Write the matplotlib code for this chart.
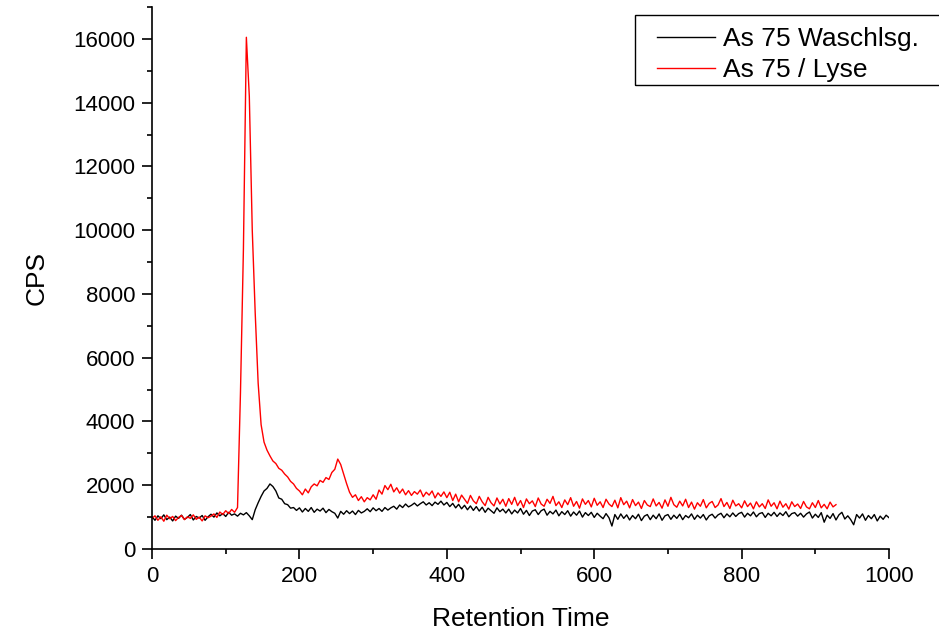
import numpy as np
import matplotlib.pyplot as plt
from matplotlib.ticker import MultipleLocator
from matplotlib.patches import Rectangle

plt.rcParams['font.family'] = ['Liberation Sans', 'DejaVu Sans']

# Retention time grid, one reading every 4 units
time_wasch = np.arange(0, 1001, 4)
time_lyse = np.arange(0, 929, 4)

# As 75 Waschlsg. (black)
cps_wasch = [
    1010, 900, 1040, 950, 1070, 920, 1000, 880, 1030, 960,
    1060, 930, 990, 1080, 910, 1020, 970, 1050, 900, 1010,
    1090, 1000, 1130, 1040, 1110, 1020, 1150, 1060, 1100, 1030,
    1120, 1070, 1140, 1040, 920, 1230, 1450, 1650, 1820, 1900,
    2040, 1960, 1820, 1600, 1560, 1420, 1390, 1280, 1300, 1210,
    1290, 1160, 1270, 1180, 1300, 1150, 1250, 1190, 1280, 1140,
    1240, 1170, 1120, 970, 1180, 1090, 1200, 1110, 1190, 1080,
    1210, 1130, 1180, 1260, 1170, 1290, 1200, 1270, 1180, 1300,
    1220, 1290, 1340, 1250, 1380, 1300, 1410, 1320, 1370, 1440,
    1350, 1420, 1480, 1380, 1450, 1360, 1470, 1400, 1500, 1380,
    1460, 1330, 1430, 1290, 1400, 1260, 1370, 1230, 1350, 1210,
    1330, 1190, 1310, 1150, 1280, 1200, 1120, 1290, 1170, 1250,
    1130, 1250, 1100, 1220, 1130, 1270, 1090, 1210, 1050, 1190,
    1230, 1080, 1200, 1250, 1060, 1180, 1100, 1220, 1040, 1170,
    1080, 1200, 1030, 1160, 1060, 1190, 1000, 1140, 1050, 1150,
    990, 1120, 1030, 950, 1110, 980, 720, 1080, 930, 1100,
    960, 1070, 910, 1050, 950, 1090, 890, 1030, 1080, 920,
    1060, 950, 1100, 900, 1040, 1080, 930, 1060, 960, 1090,
    920, 1050, 980, 1100, 930, 1060, 970, 1080, 910, 1040,
    1090, 970, 1070, 1120, 980, 1100, 1010, 1130, 1020, 1110,
    1150, 1000, 1120, 1040, 1160, 1010, 1110, 1140, 990, 1120,
    1040, 1150, 1020, 1130, 1050, 1170, 1010, 1110, 1140, 1030,
    1120, 1000, 1100, 1160, 970, 1090, 990, 1140, 840, 1060,
    960, 1110, 910, 1070, 1150, 940, 1040, 920, 760, 1080,
    970, 1100, 900, 1050, 950, 1080, 880, 1030, 930, 1060,
    980,
]

# As 75 / Lyse (red)
cps_lyse = [
    960, 1040, 900, 1010, 870, 1060, 950, 1020, 890, 990,
    1050, 920, 1010, 960, 1070, 930, 1000, 880, 1040, 980,
    1030, 1100, 990, 1160, 1080, 1200, 1110, 1240, 1150, 1300,
    4900, 9400, 16050, 14200, 10000, 7400, 5200, 3900, 3350, 3100,
    2920, 2760, 2680, 2530, 2470, 2350, 2260, 2120, 2040, 1900,
    1820, 1700, 1880, 1760, 1950, 2040, 1980, 2150, 2090, 2240,
    2180, 2400, 2500, 2820, 2650, 2350, 2050, 1780, 1620, 1700,
    1520, 1640, 1480, 1610, 1540, 1700, 1560, 1850, 1720, 1990,
    1860, 2030, 1790, 1920, 1750, 1880, 1700, 1830, 1680, 1800,
    1720, 1850, 1640, 1780, 1690, 1820, 1600, 1760, 1650, 1790,
    1610, 1780, 1520, 1720, 1480, 1690, 1560, 1430, 1680, 1510,
    1420, 1650, 1480, 1360, 1620, 1450, 1350, 1600, 1410, 1560,
    1340, 1580, 1400, 1620, 1360, 1520, 1300, 1570, 1420, 1510,
    1330, 1600, 1410, 1340, 1560, 1430, 1650, 1360, 1480, 1300,
    1540, 1390, 1610, 1340, 1490, 1280, 1570, 1400, 1520, 1320,
    1590, 1370, 1480, 1300, 1560, 1410, 1330, 1530, 1290, 1610,
    1390, 1500, 1290, 1550, 1360, 1470, 1270, 1520, 1380, 1330,
    1570, 1350, 1460, 1280, 1540, 1340, 1620, 1390, 1310, 1500,
    1350, 1560, 1300, 1470, 1250, 1450, 1340, 1550, 1290, 1430,
    1490, 1300, 1380, 1580, 1330, 1460, 1270, 1530, 1350, 1420,
    1290, 1510, 1330, 1440, 1260, 1480, 1320, 1420, 1270, 1540,
    1340, 1450, 1260, 1500, 1310, 1420, 1250, 1480, 1330, 1410,
    1270, 1490, 1320, 1260, 1450, 1300, 1520, 1290, 1400, 1260,
    1470, 1320, 1390,
]

fig = plt.figure(figsize=(9.39, 6.3), dpi=100)
ax = fig.add_axes([0.1619, 0.1286, 0.7849, 0.8603])

ax.plot(time_wasch, cps_wasch, color='black', lw=1.0, label='As 75 Waschlsg.')
ax.plot(time_lyse, cps_lyse, color='red', lw=1.0, label='As 75 / Lyse')

ax.set_xlim(0, 1000)
ax.set_ylim(0, 17000)
ax.xaxis.set_major_locator(MultipleLocator(200))
ax.xaxis.set_minor_locator(MultipleLocator(100))
ax.yaxis.set_major_locator(MultipleLocator(2000))
ax.yaxis.set_minor_locator(MultipleLocator(1000))

# only left and bottom axes, ticks outside
ax.spines['top'].set_visible(False)
ax.spines['right'].set_visible(False)
ax.spines['left'].set_linewidth(1.2)
ax.spines['bottom'].set_linewidth(1.2)
ax.tick_params(which='major', direction='out', length=7, width=1.2, labelsize=16, pad=5)
ax.tick_params(which='minor', direction='out', length=3.6, width=1.2)

ax.set_xlabel('Retention Time', fontsize=19, labelpad=15)
ax.set_ylabel('CPS', fontsize=19, labelpad=18)

# legend box runs off the right edge of the figure
fig.add_artist(Rectangle((635 / 939, 1 - 85 / 630), 320 / 939, 70 / 630,
                         transform=fig.transFigure, fill=False,
                         edgecolor='black', lw=1.0))
ax.legend(loc='upper left', bbox_to_anchor=(657 / 939, 1 - 27 / 630),
          bbox_transform=fig.transFigure, fontsize=19, frameon=False,
          borderaxespad=0, borderpad=0, handlelength=2.2,
          handletextpad=0.3, labelspacing=0.28)

fig.savefig('out.png', dpi=100)
